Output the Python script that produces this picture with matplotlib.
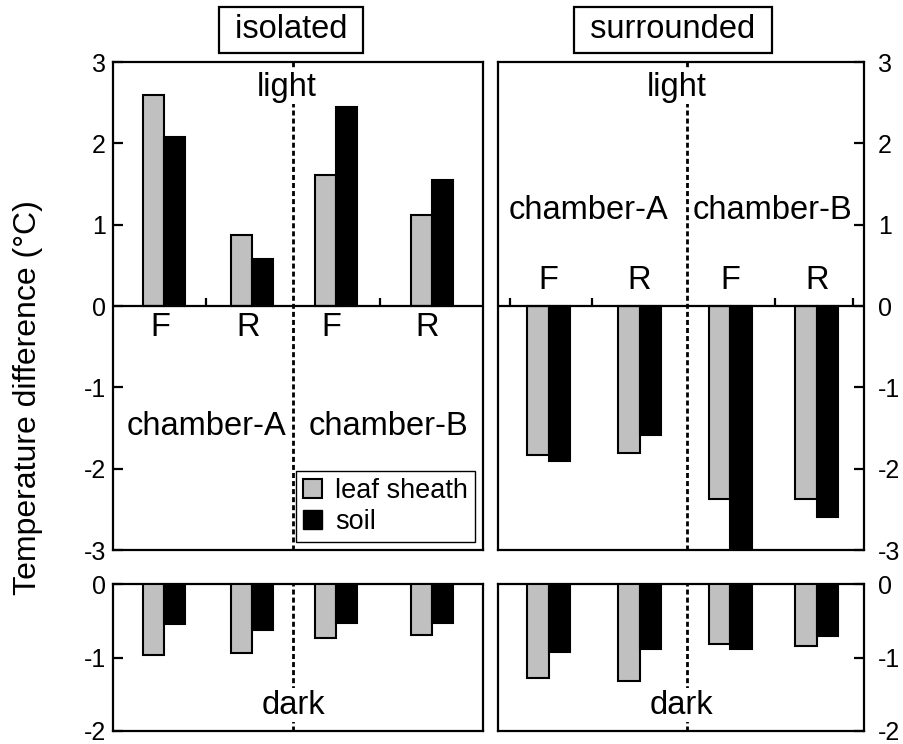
import numpy as np
import matplotlib.pyplot as plt
from matplotlib.patches import Patch

plt.rcParams['font.family'] = ['Liberation Sans', 'DejaVu Sans']
plt.rcParams['axes.unicode_minus'] = False

# data (temperature difference, degC)
groups = ['F', 'R', 'F', 'R']
light_iso_sheath = [2.60, 0.87, 1.61, 1.12]
light_iso_soil = [2.08, 0.58, 2.45, 1.55]
light_sur_sheath = [-1.83, -1.81, -2.37, -2.37]
light_sur_soil = [-1.91, -1.58, -3.00, -2.59]
dark_iso_sheath = [-0.97, -0.94, -0.74, -0.69]
dark_iso_soil = [-0.55, -0.63, -0.53, -0.53]
dark_sur_sheath = [-1.28, -1.32, -0.81, -0.84]
dark_sur_soil = [-0.93, -0.89, -0.89, -0.71]

# layout
x_iso = np.array([0.52, 1.53, 2.49, 3.59])
x_sur = np.array([0.45, 1.47, 2.49, 3.46])
w = 0.24
grey = '#c0c0c0'
fs = 23.5
tfs = 18
dash = (0, (1.8, 1.1))

fig = plt.figure(figsize=(9.04, 7.44), dpi=100)
W, H = 904, 744

def add_ax(x0, y0, x1, y1):
    return fig.add_axes([x0 / W, 1 - y1 / H, (x1 - x0) / W, (y1 - y0) / H])

ax1 = add_ax(113, 62, 483, 550)
ax2 = add_ax(498, 62, 864, 550)
ax3 = add_ax(113, 584, 483, 731)
ax4 = add_ax(498, 584, 864, 731)

def bars(ax, x, sheath, soil):
    ax.bar(x - w / 2, sheath, w, color=grey, edgecolor='black', linewidth=1.5, zorder=3)
    ax.bar(x + w / 2, soil, w, color='black', edgecolor='black', linewidth=1.5, zorder=3)

bars(ax1, x_iso, light_iso_sheath, light_iso_soil)
bars(ax2, x_sur, light_sur_sheath, light_sur_soil)
bars(ax3, x_iso, dark_iso_sheath, dark_iso_soil)
bars(ax4, x_sur, dark_sur_sheath, dark_sur_soil)

for ax in (ax1, ax3):
    ax.set_xlim(-0.07, 4.18)
for ax in (ax2, ax4):
    ax.set_xlim(-0.12, 3.99)

for ax in (ax1, ax2):
    ax.set_ylim(-3, 3)
    ax.set_yticks([3, 2, 1, 0, -1, -2, -3])
    ax.axhline(0, color='black', lw=1.6, zorder=4)
for ax in (ax3, ax4):
    ax.set_ylim(-2, 0)
    ax.set_yticks([0, -1, -2])

for ax in (ax1, ax2, ax3, ax4):
    ax.set_xticks([])
    for s in ax.spines.values():
        s.set_linewidth(1.6)
    ax.tick_params(axis='y', direction='in', length=7, width=1.6, labelsize=tfs, pad=5)
    ax.axvline(2, color='black', lw=2, linestyle=dash, zorder=2)

for ax in (ax2, ax4):
    ax.yaxis.tick_right()
    ax.tick_params(axis='y', pad=10)

# tick marks on the zero line
ax1.vlines([1, 3], 0, 0.1, color='black', lw=1.6)
ax2.vlines([0.01, 0.94, 2.99, 3.87], 0, 0.1, color='black', lw=1.6)

white = dict(facecolor='white', edgecolor='none', pad=1)

# isolated panel text
ax1.text(1.93, 2.69, 'light', ha='center', va='center', fontsize=fs, bbox=white, zorder=5)
for xi, g in zip(x_iso, groups):
    ax1.text(xi - 0.05, -0.26, g, ha='center', va='center', fontsize=fs)
ax1.text(1.0, -1.48, 'chamber-A', ha='center', va='center', fontsize=fs)
ax1.text(3.1, -1.48, 'chamber-B', ha='center', va='center', fontsize=fs)

# surrounded panel text
ax2.text(1.89, 2.69, 'light', ha='center', va='center', fontsize=fs, bbox=white, zorder=5)
for xi, g in zip(x_sur, groups):
    ax2.text(xi, 0.31, g, ha='center', va='center', fontsize=fs)
ax2.text(0.9, 1.17, 'chamber-A', ha='center', va='center', fontsize=fs)
ax2.text(2.96, 1.17, 'chamber-B', ha='center', va='center', fontsize=fs)

ax3.text(2.0, -1.65, 'dark', ha='center', va='center', fontsize=fs, bbox=white, zorder=5)
ax4.text(1.94, -1.65, 'dark', ha='center', va='center', fontsize=fs, bbox=white, zorder=5)

# legend
handles = [Patch(facecolor=grey, edgecolor='black', linewidth=1.5, label='leaf sheath'),
           Patch(facecolor='black', edgecolor='black', label='soil')]
leg = ax1.legend(handles=handles, loc='lower right', fontsize=19.5, frameon=True,
                 fancybox=False, framealpha=1, edgecolor='black',
                 handlelength=0.7, handleheight=0.7, handletextpad=0.5,
                 borderpad=0.25, labelspacing=0.2, borderaxespad=0.3)
leg.get_frame().set_linewidth(1.0)
leg.set_zorder(6)

# headers
box = dict(boxstyle='square,pad=0.22', facecolor='white', edgecolor='black', linewidth=1.6)
fig.text(291 / W, 1 - 30 / H, ' isolated ', ha='center', va='center', fontsize=fs, bbox=box)
fig.text(673 / W, 1 - 30 / H, ' surrounded ', ha='center', va='center', fontsize=fs, bbox=box)

fig.text(28 / W, 1 - 398 / H, 'Temperature difference (°C)', rotation=90,
         ha='center', va='center', fontsize=23)

fig.savefig('out.png', dpi=100)
